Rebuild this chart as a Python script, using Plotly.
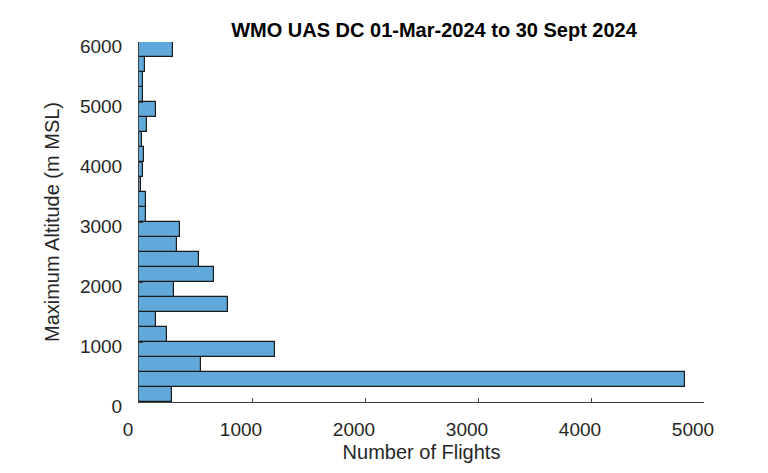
import plotly.graph_objects as go

# Altitude bins (lower edge, m MSL), bin width 250 m
bin_low = [0, 250, 500, 750, 1000, 1250, 1500, 1750, 2000, 2250, 2500, 2750,
           3000, 3250, 3500, 3750, 4000, 4250, 4500, 4750, 5000, 5250, 5500, 5750]
bin_width = 250
# Number of flights per bin
flights = [290, 4830, 548, 1200, 250, 148, 788, 314, 660, 535, 338, 360,
           60, 60, 14, 31, 40, 28, 72, 150, 31, 37, 57, 302]

x_ticks = [0, 1000, 2000, 3000, 4000, 5000]
y_ticks = [0, 1000, 2000, 3000, 4000, 5000, 6000]

centers = [b + bin_width / 2 for b in bin_low]

fig = go.Figure(go.Bar(
    x=flights, y=centers, orientation="h", width=bin_width,
    marker=dict(color="#62A9DB", line=dict(color="#1a1a1a", width=1.2)),
    hoverinfo="x+y",
))

axis_col = "#404040"
font_fam = "Liberation Sans, Arial, sans-serif"

# the page body has an 8px default margin, so the figure is offset by 8px
W, H = 760, 465
fig.update_layout(
    width=W, height=H,
    margin=dict(l=130.5, r=64.4, t=33.7, b=71.3),
    paper_bgcolor="white", plot_bgcolor="white",
    showlegend=False,
    font=dict(family=font_fam, color="#262626"),
    title=dict(text="<b>WMO UAS DC 01-Mar-2024 to 30 Sept 2024</b>",
               font=dict(size=20, color="black", family=font_fam),
               x=(434 - 8) / W, xanchor="center", xref="container",
               y=1 - (30 - 8) / H, yanchor="middle", yref="container"),
    bargap=0,
)

fig.update_xaxes(
    range=[0, 5000], tickvals=x_ticks, ticktext=[str(v) for v in x_ticks],
    showline=True, linecolor=axis_col, linewidth=1, mirror=False,
    ticks="inside", ticklen=4, tickcolor=axis_col, tickwidth=1,
    showgrid=False, zeroline=False, automargin=False,
    tickfont=dict(size=19, family=font_fam, color="#262626"),
    ticklabelstandoff=10, ticklabelshift=-11,
    title=dict(text="Number of Flights", font=dict(size=20, family=font_fam, color="#262626"),
               standoff=6),
)
fig.update_yaxes(
    range=[0, 6000], tickvals=y_ticks, ticktext=[str(v) for v in y_ticks],
    showline=True, linecolor=axis_col, linewidth=1, mirror=False,
    ticks="inside", ticklen=4, tickcolor=axis_col, tickwidth=1,
    showgrid=False, zeroline=False, automargin=False,
    tickfont=dict(size=19, family=font_fam, color="#262626"),
    ticklabelstandoff=12, ticklabelshift=4,
    title=dict(text="Maximum Altitude (m MSL)", font=dict(size=20, family=font_fam, color="#262626"),
               standoff=14),
)

fig.write_html("out.html")
